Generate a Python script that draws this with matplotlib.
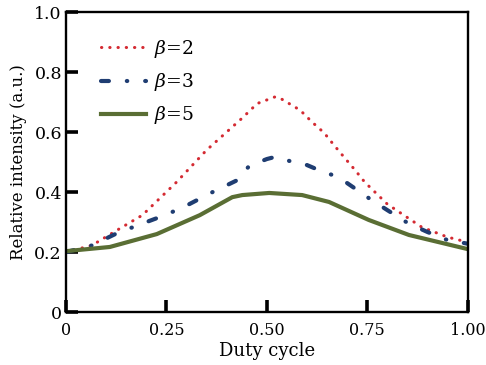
import matplotlib
matplotlib.use("Agg")
import matplotlib.pyplot as plt

plt.rcParams['font.family'] = ['DejaVu Serif']
plt.rcParams['mathtext.fontset'] = 'dejavuserif'

# beta = 2
x2 = [0.0, 0.064, 0.127, 0.19, 0.275, 0.35, 0.439, 0.476, 0.52, 0.533, 0.583, 0.613,
      0.643, 0.667, 0.692, 0.72, 0.744, 0.8, 0.886, 0.95, 1.0]
y2 = [0.20, 0.222, 0.273, 0.323, 0.433, 0.54, 0.647, 0.695, 0.717, 0.713, 0.673, 0.633,
      0.597, 0.557, 0.517, 0.473, 0.433, 0.36, 0.283, 0.25, 0.233]
# beta = 3
x3 = [0.0, 0.064, 0.127, 0.2, 0.25, 0.3, 0.365, 0.427, 0.456, 0.5, 0.52, 0.558, 0.6,
      0.63, 0.663, 0.7, 0.725, 0.757, 0.8, 0.851, 0.9, 0.95, 1.0]
y3 = [0.20, 0.222, 0.263, 0.30, 0.325, 0.355, 0.40, 0.44, 0.487, 0.51, 0.517, 0.503,
      0.49, 0.473, 0.457, 0.43, 0.407, 0.377, 0.34, 0.297, 0.267, 0.24, 0.228]
# beta = 5
x5 = [0.0, 0.109, 0.226, 0.333, 0.414, 0.439, 0.506, 0.588, 0.655, 0.754, 0.854, 1.0]
y5 = [0.203, 0.217, 0.26, 0.323, 0.383, 0.39, 0.397, 0.39, 0.367, 0.307, 0.257, 0.21]

fig = plt.figure(figsize=(4.86, 3.65), dpi=100)
ax = fig.add_axes([0.136, 0.145, 0.826, 0.822])

ax.plot(x2, y2, color='#d42a32', lw=2.2, linestyle=(0, (0.1, 2.6)),
        dash_capstyle='round', label=r'$\beta$=2')
ax.plot(x3, y3, color='#1f3d72', lw=3, linestyle=(0, (1.9, 4.3, 0.1, 4.3)),
        dash_capstyle='round', label=r'$\beta$=3')
ax.plot(x5, y5, color='#5a6e34', lw=3, label=r'$\beta$=5')

ax.set_xlim(0, 1)
ax.set_ylim(0, 1)
ax.set_xticks([0, 0.25, 0.5, 0.75, 1.0])
ax.set_xticklabels(['0', '0.25', '0.50', '0.75', '1.00'])
ax.set_yticks([0, 0.2, 0.4, 0.6, 0.8, 1.0])
ax.set_yticklabels(['0', '0.2', '0.4', '0.6', '0.8', '1.0'])
ax.tick_params(direction='in', length=8.5, width=2.6, labelsize=12.5, pad=3)
ax.tick_params(axis='x', pad=7, labelsize=11.5)
for s in ax.spines.values():
    s.set_linewidth(1.7)

ax.set_xlabel('Duty cycle', fontsize=13, labelpad=2)
ax.set_ylabel('Relative intensity (a.u.)', fontsize=12, labelpad=5)

ax.legend(loc='upper left', bbox_to_anchor=(0.045, 0.97), frameon=False, fontsize=13.5,
          handlelength=2.4, handletextpad=0.4, labelspacing=0.6)

fig.savefig('out.png', dpi=100)
